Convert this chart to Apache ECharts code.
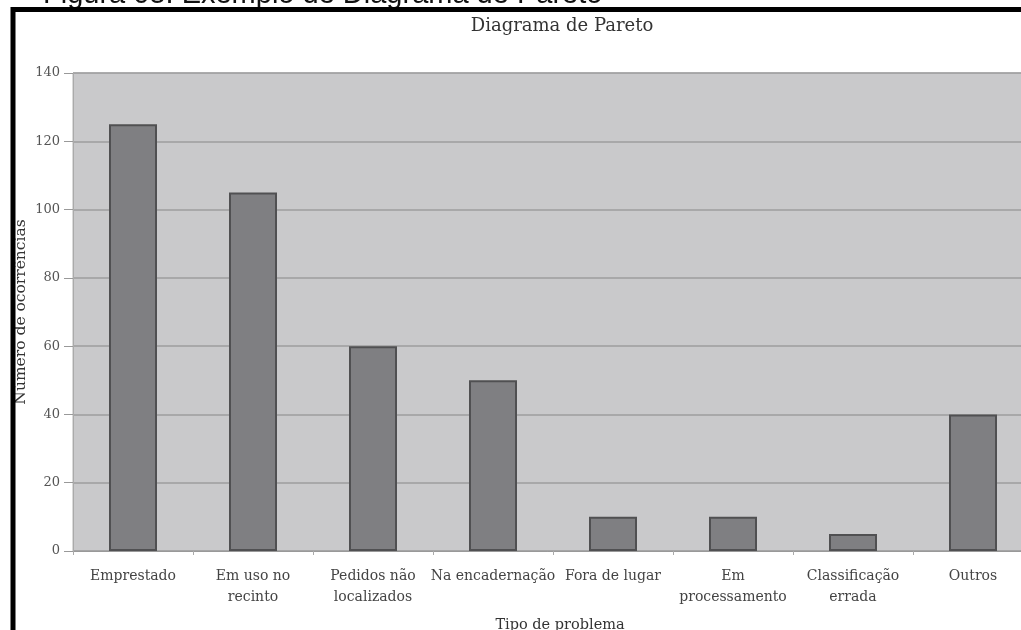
<!DOCTYPE html>
<html><head><meta charset="utf-8">
<script src="https://cdn.jsdelivr.net/npm/echarts@6/dist/echarts.min.js"></script>
<style>html,body{margin:0;padding:0;background:#fff}#c{width:1021px;height:630px}</style>
</head><body><div id="c"></div>
<script>
const categories = ['Emprestado', 'Em uso no\nrecinto', 'Pedidos não\nlocalizados', 'Na encadernação', 'Fora de lugar', 'Em\nprocessamento', 'Classificação\nerrada', 'Outros'];
const values = [125, 105, 60, 50, 10, 10, 5, 40];
const yTicks = [0, 20, 40, 60, 80, 100, 120, 140];

const serif = '"DejaVu Serif", "Liberation Serif", serif';
const chart = echarts.init(document.getElementById('c'), null, {renderer: 'canvas'});
chart.setOption({
  animation: false,
  backgroundColor: '#fff',
  title: {
    text: 'Diagrama de Pareto', left: 557, top: 12, textAlign: 'center',
    textStyle: {fontFamily: serif, fontSize: 18, fontWeight: 'normal', color: '#333'}
  },
  grid: {left: 73, top: 73, width: 960, height: 478, outerBoundsMode: 'none', containLabel: false,
    show: true, backgroundColor: '#c9c9cb', borderColor: '#b5b5b5', borderWidth: 1},
  xAxis: {
    type: 'category', data: categories,
    name: 'Tipo de problema', nameLocation: 'middle', nameGap: 67,
    nameTextStyle: {fontFamily: serif, fontSize: 14.5, color: '#333', padding: [0, 0, 0, 14]},
    axisLine: {lineStyle: {color: '#999', width: 1}},
    axisTick: {show: true, alignWithLabel: false, length: 4, lineStyle: {color: '#aaa'}},
    axisLabel: {fontFamily: serif, fontSize: 14, color: '#444', margin: 15, lineHeight: 21, interval: 0}
  },
  yAxis: {
    type: 'value', min: 0, max: 140, interval: 20,
    name: 'Número de ocorrências', nameLocation: 'middle', nameGap: 44, nameRotate: 90,
    nameMoveOverlap: false,
    nameTextStyle: {fontFamily: serif, fontSize: 15.5, color: '#333'},
    axisLine: {show: true, lineStyle: {color: '#aaa'}},
    axisTick: {show: true, length: 9, lineStyle: {color: '#999'}},
    axisLabel: {fontFamily: serif, fontSize: 13, color: '#555', margin: 13,
      formatter: v => yTicks.includes(v) ? String(v) : ''},
    splitLine: {lineStyle: {color: '#9c9c9e', width: 1.5}}
  },
  series: [{
    type: 'bar', data: values, barWidth: 48,
    itemStyle: {color: '#7f7f82', borderColor: '#505052', borderWidth: 2}
  }],
  graphic: [
    {type: 'rect', shape: {x: 13, y: 9.5, width: 1200, height: 800}, style: {fill: 'none', stroke: '#000', lineWidth: 5}, z: 100},
    {type: 'text', x: 43, y: -20, style: {text: 'Figura 05: Exemplo de Diagrama de Pareto', font: '29px "Liberation Sans", Arial, sans-serif', fill: '#111'}, z: 99}
  ]
});
</script></body></html>
